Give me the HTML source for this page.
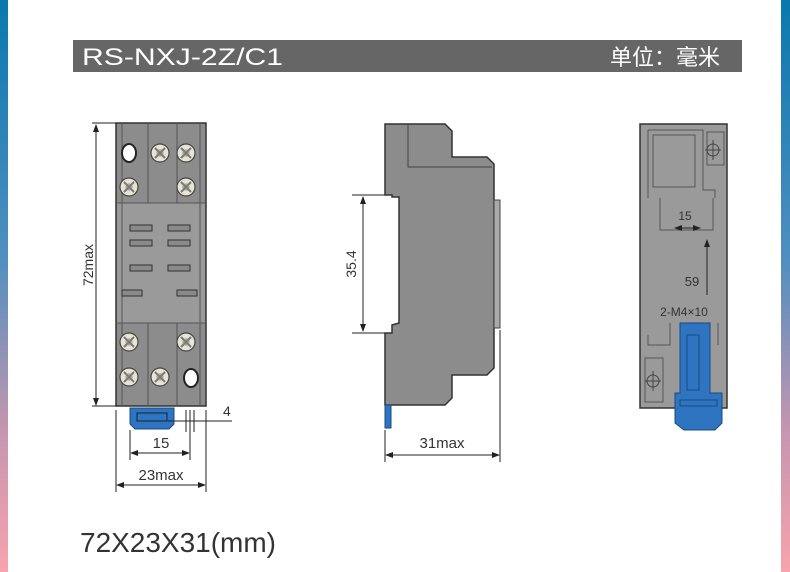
<!DOCTYPE html>
<html><head><meta charset="utf-8"><style>
html,body{margin:0;padding:0;background:#fff;}
body{width:790px;height:572px;position:relative;overflow:hidden;font-family:"Liberation Sans","Noto Sans CJK SC",sans-serif;}
.lb{position:absolute;left:0;top:0;width:8px;height:572px;background:linear-gradient(#0a78ad,#4f8fc0 45%,#c595b0 75%,#f8a3ad);}
.rb{position:absolute;left:781px;top:0;width:9px;height:572px;background:linear-gradient(#0a78ad,#4f8fc0 45%,#c595b0 75%,#f8a3ad);}
</style></head><body>
<div class="lb"></div><div class="rb"></div>
<svg width="790" height="572" style="position:absolute;left:0;top:0" font-family="Liberation Sans, sans-serif">
<defs>
<g id="scr"><circle r="9" fill="#e8e4d4" stroke="#444" stroke-width="1.2"/><path d="M-5,-5L5,5M-5,5L5,-5" stroke="#777" stroke-width="2"/><circle r="3" fill="none" stroke="#888"/></g>
<marker id="ar" markerWidth="8" markerHeight="6" refX="7" refY="3" orient="auto-start-reverse"><path d="M0,0L8,3L0,6z" fill="#222"/></marker>
</defs>
<rect x="73" y="40" width="669" height="32" fill="#666"/>
<text x="82" y="65" fill="#fff" font-size="24" textLength="201" lengthAdjust="spacingAndGlyphs">RS-NXJ-2Z/C1</text>
<text x="610" y="65" fill="#fff" font-size="22" font-family="Liberation Sans, Noto Sans CJK SC, sans-serif">单位：毫米</text>

<!-- left view -->
<rect x="116" y="123" width="90" height="283" fill="#8c8c8c" stroke="#333" stroke-width="1.5"/>
<rect x="117" y="203" width="88" height="120" fill="#9a9a9a"/>
<path d="M116,203H206M116,323H206M148,123V203M177,123V203M148,323V406M177,323V406M122,123V406M200,123V406" stroke="#555" stroke-width="1" fill="none"/>
<g fill="#8a8a8a" stroke="#333" stroke-width="1">
<rect x="130" y="225" width="22" height="6"/><rect x="168" y="225" width="22" height="6"/>
<rect x="130" y="240" width="22" height="6"/><rect x="168" y="240" width="22" height="6"/>
<rect x="130" y="265" width="22" height="6"/><rect x="168" y="265" width="22" height="6"/>
<rect x="122" y="290" width="20" height="6"/><rect x="177" y="290" width="20" height="6"/>
</g>
<ellipse cx="129" cy="153" rx="7" ry="9" fill="#fff" stroke="#222" stroke-width="2"/>
<ellipse cx="191" cy="378" rx="7" ry="9" fill="#fff" stroke="#222" stroke-width="2"/>
<use href="#scr" x="160" y="153"/><use href="#scr" x="186" y="153"/>
<use href="#scr" x="129" y="187"/><use href="#scr" x="186" y="187"/>
<use href="#scr" x="129" y="342"/><use href="#scr" x="186" y="342"/>
<use href="#scr" x="129" y="377"/><use href="#scr" x="160" y="377"/>
<path d="M130,408H174V424L169,429H135L130,424Z" fill="#2f74c0" stroke="#1a4a80"/>
<path d="M137,413H167V421H137Z" fill="none" stroke="#123"/>
<g stroke="#222" stroke-width="1" fill="none">
<path d="M96,125V405" marker-start="url(#ar)" marker-end="url(#ar)"/>
<path d="M92,123H116M92,406H116"/>
<path d="M116,410V492M206,410V492M130,430V460M190,410V460M186,410V432M194,410V432"/>
<path d="M131,453H189" marker-start="url(#ar)" marker-end="url(#ar)"/>
<path d="M117,485H205" marker-start="url(#ar)" marker-end="url(#ar)"/>
<path d="M168,421H232"/>
</g>
<text transform="translate(93,265) rotate(-90)" font-size="14" fill="#333" text-anchor="middle">72max</text>
<text x="161" y="448" font-size="15" fill="#333" text-anchor="middle">15</text>
<text x="161" y="480" font-size="15" fill="#333" text-anchor="middle">23max</text>
<text x="223" y="416" font-size="14" fill="#333">4</text>

<!-- middle view -->
<path d="M385,124H445L452,131V157H487L494,164V368L487,375H452V398L445,405H385V333H392V325L399,323V197H392V195H385Z" fill="#8c8c8c" stroke="#333" stroke-width="1.5"/>
<path d="M408,124V167H492" stroke="#444" fill="none"/>
<rect x="494" y="200" width="6" height="128" fill="#aaa" stroke="#444"/>
<rect x="385" y="405" width="6" height="23" fill="#2f74c0" stroke="#1a4a80"/>
<g stroke="#222" fill="none">
<path d="M352,195H385M352,333H385"/>
<path d="M363,197V331" marker-start="url(#ar)" marker-end="url(#ar)"/>
<path d="M385,430V462M500,330V462"/>
<path d="M386,455H499" marker-start="url(#ar)" marker-end="url(#ar)"/>
</g>
<text transform="translate(356,264) rotate(-90)" font-size="14" fill="#333" text-anchor="middle">35.4</text>
<text x="442" y="448" font-size="15" fill="#333" text-anchor="middle">31max</text>

<!-- right view -->
<rect x="640" y="124" width="87" height="284" fill="#9a9a9a" stroke="#333" stroke-width="1.5"/>
<rect x="653" y="135" width="42" height="52" fill="#9a9a9a" stroke="#555"/>
<path d="M648,130H703V190H715V198M648,130V198M660,198V230H713V198M648,335V345H670V323M718,323V345" stroke="#555" fill="none"/>
<rect x="707" y="132" width="17" height="33" fill="none" stroke="#555"/>
<circle cx="713" cy="150" r="6" fill="none" stroke="#444"/><path d="M713,140V160M705,150H721" stroke="#444"/>
<rect x="645" y="358" width="18" height="44" fill="none" stroke="#555"/>
<circle cx="653" cy="381" r="6" fill="none" stroke="#444"/><path d="M653,371V391M645,381H661" stroke="#444"/>
<path d="M675,228H700" stroke="#222" marker-start="url(#ar)" marker-end="url(#ar)"/>
<path d="M707,295V240" stroke="#222" marker-end="url(#ar)"/>
<text x="685" y="220" font-size="12" fill="#333" text-anchor="middle">15</text>
<text x="692" y="286" font-size="13" fill="#333" text-anchor="middle">59</text>
<text x="684" y="316" font-size="12" fill="#333" text-anchor="middle">2-M4×10</text>
<path d="M680,323H710V393H722V423L715,430H684L675,423V393H680Z" fill="#2f74c0" stroke="#1a4a80"/>
<rect x="687" y="335" width="12" height="55" fill="none" stroke="#1a4a80"/>
<rect x="680" y="400" width="37" height="6" fill="none" stroke="#1a4a80"/>

<text x="80" y="552" font-size="28" fill="#333" textLength="196" lengthAdjust="spacingAndGlyphs">72X23X31(mm)</text>
</svg>
</body></html>
